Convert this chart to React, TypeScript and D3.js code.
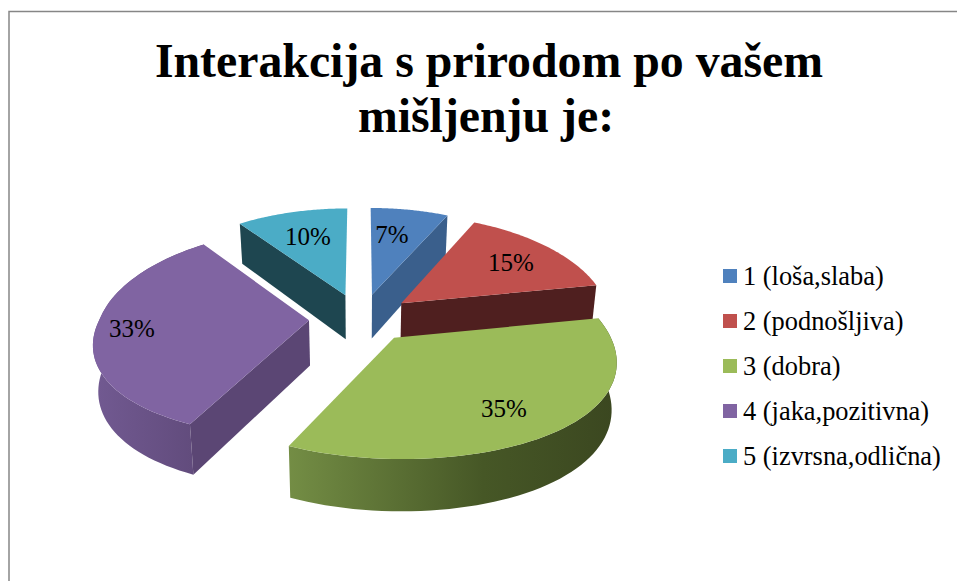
import React from "react";
import * as d3 from "d3";

const categories = ["1 (loša,slaba)", "2 (podnošljiva)", "3 (dobra)", "4 (jaka,pozitivna)", "5 (izvrsna,odlična)"];
const values = [7, 15, 35, 33, 10];
const colors = ["#4f81bd", "#c0504d", "#9bbb59", "#8064a2", "#4bacc6"];
const radialWall = ["#3a5f8c", "#4f1f1f", "", "#5b4674", "#1e4650"];
const titleLines = ["Interakcija s prirodom po vašem", "mišljenju je:"];
const titleX = [489, 486];
const titleY = [77, 132];
const labelPos = [[392, 243], [511, 271], [504, 417], [132, 337], [308, 245]];
const legendY = [285, 330, 375, 420, 465];

const CX = 361, CY = 318, HY = -553, RX = 209, RY = 217, EXPL = 52, P = 0.00054, PX_BACK = 0.00065, PX_FRONT = 0.00088, THICK = 45;
const H = CY - HY;

type V = [number, number];
function project(X: number, Y: number, drop = 0): V {
  const s = 1 / (1 + P * Y);
  const sx = 1 / (1 + (Y > 0 ? PX_BACK : PX_FRONT) * Y);
  return [CX + X * sx * (1 - 0.02 * drop), HY + H * s + THICK * s * drop];
}

export default function App() {
  const pie = d3.pie<number>().sort(null).startAngle(0).endAngle(2 * Math.PI);
  const arcs = pie(values);
  const line = d3.line();
  const rows = arcs.map((a, i) => {
    const mid = (a.startAngle + a.endAngle) / 2;
    const ax = EXPL * Math.sin(mid), ay = EXPL * Math.cos(mid);
    const pt = (t: number, d = 0) => project(ax + RX * Math.sin(t), ay + RY * Math.cos(t), d);
    const ts = d3.range(0, 61).map((k) => a.startAngle + ((a.endAngle - a.startAngle) * k) / 60);
    const apex = (d = 0) => project(ax, ay, d);
    const top = line([apex(), ...ts.map((t) => pt(t))])! + "Z";
    const outer = line([...ts.map((t) => pt(t)), ...ts.slice().reverse().map((t) => pt(t, 1))])! + "Z";
    const edge = i === 0 || i === 1 ? a.endAngle : a.startAngle;
    const radial = line([apex(), pt(edge), pt(edge, 1), apex(1)])! + "Z";
    return { i, top, outer, radial };
  });
  const order = [4, 0, 1, 3, 2];
  return (
    <svg width={957} height={581} style={{ position: "absolute", left: 0, top: 0, background: "#fff" }} fontFamily="'Liberation Serif'">
      <defs>
        <linearGradient id="gGreen" gradientUnits="userSpaceOnUse" x1={286} x2={615} y1={0} y2={0}>
          <stop offset="0" stopColor="#748e45" />
          <stop offset="0.6" stopColor="#465726" />
          <stop offset="1" stopColor="#3b4720" />
        </linearGradient>
        <linearGradient id="gPurple" gradientUnits="userSpaceOnUse" x1={91} x2={192} y1={0} y2={0}>
          <stop offset="0" stopColor="#725a92" />
          <stop offset="1" stopColor="#624c7d" />
        </linearGradient>
      </defs>
      <path d="M9,581V11.5H957" fill="none" stroke="#868686" strokeWidth={1.5} />
      {titleLines.map((t, i) => (
        <text key={t} x={titleX[i]} y={titleY[i]} textAnchor="middle" fontSize={47.8} fontWeight="bold" fill="#000">{t}</text>
      ))}
      {order.map((i) => {
        const r = rows[i];
        return (
          <g key={i}>
            {i === 2 && <path d={r.outer} fill="url(#gGreen)" />}
            {i === 3 && <path d={r.outer} fill="url(#gPurple)" />}
            {i !== 2 && <path d={r.radial} fill={radialWall[i]} />}
            <path d={r.top} fill={colors[i]} />
          </g>
        );
      })}
      {labelPos.map(([x, y], i) => (
        <text key={i} x={x} y={y} textAnchor="middle" fontSize={25} fill="#000">{values[i]}%</text>
      ))}
      {categories.map((c, i) => (
        <g key={c}>
          <rect x={723} y={legendY[i] - 16} width={14} height={14} fill={colors[i]} />
          <text x={743} y={legendY[i]} fontSize={26.4} fill="#000">{c}</text>
        </g>
      ))}
    </svg>
  );
}
